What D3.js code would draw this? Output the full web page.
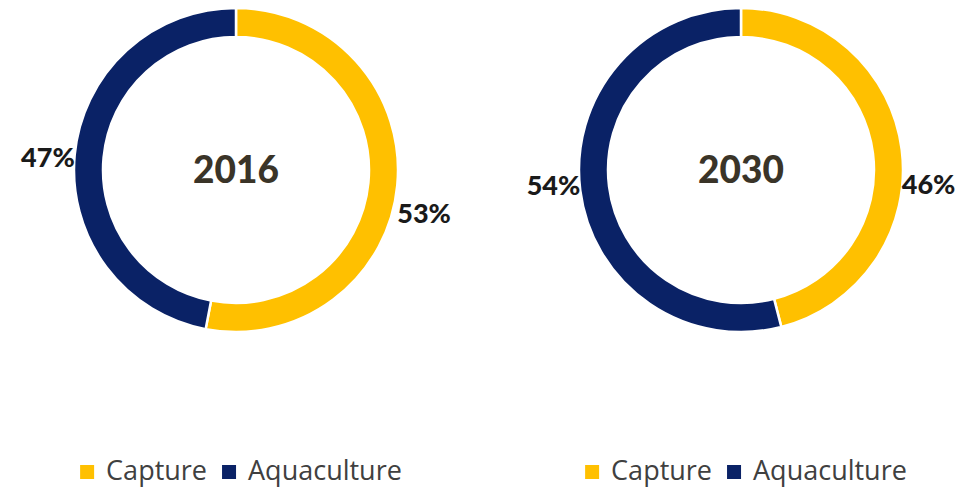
<!DOCTYPE html>
<html>
<head>
<meta charset="utf-8">
<script src="https://cdn.jsdelivr.net/npm/d3@7"></script>
<style>
  body { margin: 0; background: #fff; }
</style>
</head>
<body>
<div id="chart"></div>
<script>
// data
const years = ["2016", "2030"];
const categories = ["Capture", "Aquaculture"];
const shares2016 = [53, 47];
const shares2030 = [46, 54];
const allShares = [shares2016, shares2030];

const colors = d3.scaleOrdinal().domain(categories).range(["#FFC000", "#0A2266"]);

const width = 978, height = 491;
const outerR = 162, innerR = 133;
const centers = [[236, 170], [741, 170]];
// label nudges - excel puts them where it likes
const labelNudge = [
  [{dx: 0, dy: 31}, {dx: 0, dy: 5}],
  [{dx: 0, dy: 37}, {dx: 0, dy: -2}]
];

const svg = d3.select("#chart").append("svg")
  .attr("width", width).attr("height", height);

const pie = d3.pie().sort(null).value(d => d);
const arc = d3.arc().innerRadius(innerR).outerRadius(outerR);

allShares.forEach((shares, i) => {
  const [cx, cy] = centers[i];
  const g = svg.append("g").attr("transform", `translate(${cx},${cy})`);
  const arcs = pie(shares);

  g.selectAll("path")
    .data(arcs)
    .join("path")
    .attr("d", arc)
    .attr("fill", (d, j) => colors(categories[j]))
    .attr("stroke", "#fff")
    .attr("stroke-width", 2.5);

  // percentage labels just outside the ring
  g.selectAll("text.lbl")
    .data(arcs)
    .join("text")
    .attr("class", "lbl")
    .attr("x", (d, j) => {
      const a = (d.startAngle + d.endAngle) / 2;
      return Math.sin(a) * outerR + labelNudge[i][j].dx;
    })
    .attr("y", (d, j) => {
      const a = (d.startAngle + d.endAngle) / 2;
      return -Math.cos(a) * outerR + labelNudge[i][j].dy;
    })
    .attr("text-anchor", d => ((d.startAngle + d.endAngle) / 2 < Math.PI ? "start" : "end"))
    .attr("dominant-baseline", "middle")
    .style("font-family", "Lato, 'Open Sans', sans-serif")
    .style("font-weight", "900")
    .style("font-size", "27px")
    .style("fill", "#1a1a1a")
    .text(d => d.data + "%");

  // year in the hole
  g.append("text")
    .attr("y", 3)
    .attr("text-anchor", "middle")
    .attr("dominant-baseline", "middle")
    .style("font-family", "Lato, 'Open Sans', sans-serif")
    .style("font-weight", "900")
    .style("font-size", "37px")
    .style("fill", "#3a3428")
    .text(years[i]);

  // legend, centred under the donut
  const lg = svg.append("g");
  let xOff = 0;
  categories.forEach((c, j) => {
    lg.append("rect")
      .attr("x", xOff).attr("y", -7)
      .attr("width", 14).attr("height", 14)
      .attr("fill", colors(c));
    const t = lg.append("text")
      .attr("x", xOff + 26)
      .attr("y", 1)
      .attr("dominant-baseline", "middle")
      .style("font-family", "'Open Sans', sans-serif")
      .style("font-size", "27px")
      .style("fill", "#404040")
      .text(c);
    xOff += 26 + t.node().getComputedTextLength() + (j < categories.length - 1 ? 15 : 0);
  });
  lg.attr("transform", `translate(${cx + 5 - xOff / 2},${472})`);
});
</script>
</body>
</html>
